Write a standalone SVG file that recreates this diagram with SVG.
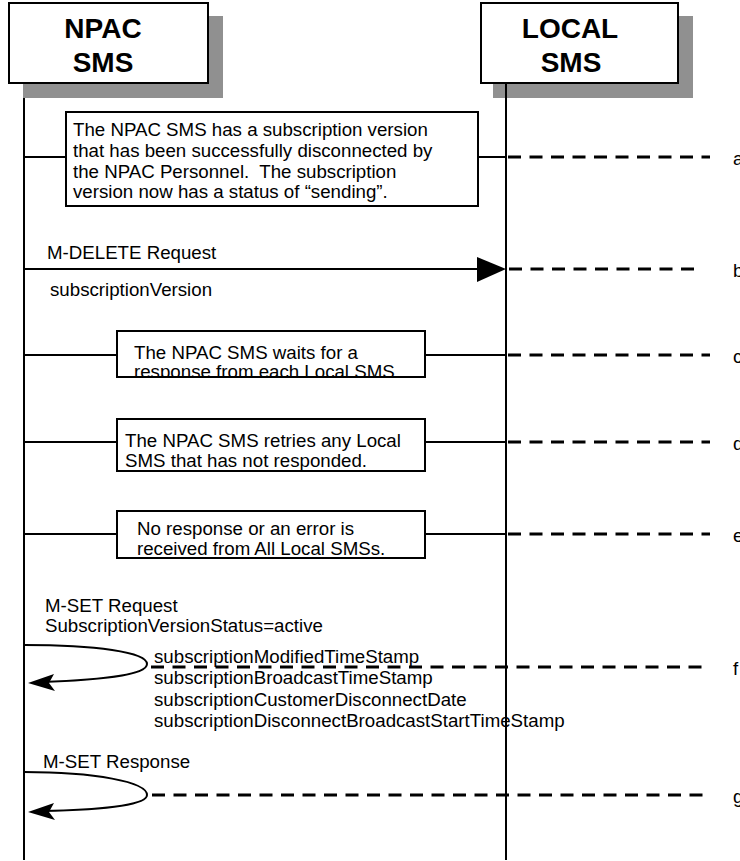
<svg xmlns="http://www.w3.org/2000/svg" width="740" height="861" viewBox="0 0 740 861">
  <style>
    .hdr { font-family: "Liberation Sans", Arial, sans-serif; font-weight: bold; font-size: 28px; fill: #000; text-anchor: middle; }
    .txt { font-family: "Liberation Sans", Arial, sans-serif; font-size: 18.7px; fill: #000; white-space: pre; }
    .box { fill: #fff; stroke: #000; stroke-width: 2; }
    .shadow { fill: #909090; }
    .life { stroke: #000; stroke-width: 2; fill: none; }
    .solid { stroke: #000; stroke-width: 2; fill: none; }
    .dash { stroke: #000; stroke-width: 3; stroke-dasharray: 13 8.5; fill: none; }
    .head { fill: #000; }
  </style>
  <defs>
    <clipPath id="clipWait">
      <rect x="118" y="332" width="306" height="44"/>
    </clipPath>
  </defs>

  <rect width="740" height="861" fill="#fff"/>

  <!-- lifelines -->
  <g id="lifelines">
    <line class="life" x1="24" y1="83" x2="24" y2="860"/>
  </g>

  <!-- participants -->
  <g id="npac">
    <rect class="shadow" x="23" y="16" width="200" height="82"/>
    <rect class="box" x="9" y="3" width="199" height="80"/>
    <text class="hdr" x="103" y="38">NPAC</text>
    <text class="hdr" x="103" y="72">SMS</text>
  </g>
  <g id="local">
    <rect class="shadow" x="493" y="16" width="200" height="82"/>
    <rect class="box" x="481" y="3" width="197" height="80"/>
    <text class="hdr" x="570" y="38">LOCAL</text>
    <text class="hdr" x="571" y="72">SMS</text>
    <line class="life" x1="506" y1="83" x2="506" y2="860"/>
  </g>

  <!-- connectors -->
  <g id="connectors">
    <!-- a -->
    <line class="solid" x1="24" y1="157" x2="66" y2="157"/>
    <line class="solid" x1="478" y1="157" x2="506" y2="157"/>
    <line class="dash" x1="508" y1="157" x2="710" y2="157"/>
    <!-- b -->
    <line class="solid" x1="24" y1="269" x2="480" y2="269"/>
    <polygon class="head" points="477,257 506,269 477,282"/>
    <line class="dash" x1="509" y1="269" x2="697" y2="269"/>
    <!-- c -->
    <line class="solid" x1="24" y1="355" x2="117" y2="355"/>
    <line class="solid" x1="425" y1="355" x2="506" y2="355"/>
    <line class="dash" x1="508" y1="355" x2="710" y2="355"/>
    <!-- d -->
    <line class="solid" x1="24" y1="442" x2="117" y2="442"/>
    <line class="solid" x1="425" y1="442" x2="506" y2="442"/>
    <line class="dash" x1="508" y1="442" x2="710" y2="442"/>
    <!-- e -->
    <line class="solid" x1="24" y1="534" x2="117" y2="534"/>
    <line class="solid" x1="425" y1="534" x2="506" y2="534"/>
    <line class="dash" x1="508" y1="534" x2="710" y2="534"/>
    <!-- f: self message -->
    <path class="solid" d="M24,645 C95,645 147,652 147,664 C147,676 95,680 42,682"/>
    <polygon class="head" points="28,683 54,674 49,683 55,691"/>
    <line class="dash" x1="151" y1="667" x2="710" y2="667"/>
    <!-- g: self message -->
    <path class="solid" d="M24,772 C95,772 147,782 147,795 C147,806 95,810 42,811"/>
    <polygon class="head" points="28,812 54,803 49,812 55,820"/>
    <line class="dash" x1="152" y1="795" x2="710" y2="795"/>
  </g>

  <!-- step notes -->
  <g id="note-a">
    <rect class="box" x="66" y="112" width="412" height="94"/>
    <text class="txt" x="73" y="136">The NPAC SMS has a subscription version</text>
    <text class="txt" x="73" y="157">that has been successfully disconnected by</text>
    <text class="txt" x="73" y="177.5">the NPAC Personnel.  The subscription</text>
    <text class="txt" x="73" y="198">version now has a status of “sending”.</text>
  </g>
  <g id="msg-b">
    <text class="txt" x="47" y="259">M-DELETE Request</text>
    <text class="txt" x="50" y="296">subscriptionVersion</text>
  </g>
  <g id="note-c">
    <rect class="box" x="117" y="331" width="308" height="46"/>
    <g clip-path="url(#clipWait)">
      <text class="txt" x="134" y="359">The NPAC SMS waits for a</text>
      <text class="txt" x="134" y="378">response from each Local SMS.</text>
    </g>
  </g>
  <g id="note-d">
    <rect class="box" x="117" y="419" width="308" height="52"/>
    <text class="txt" x="125" y="447">The NPAC SMS retries any Local</text>
    <text class="txt" x="125" y="467">SMS that has not responded.</text>
  </g>
  <g id="note-e">
    <rect class="box" x="117" y="511" width="308" height="47"/>
    <text class="txt" x="137" y="535">No response or an error is</text>
    <text class="txt" x="137" y="555">received from All Local SMSs.</text>
  </g>
  <g id="msg-f">
    <text class="txt" x="45" y="611.5">M-SET Request</text>
    <text class="txt" x="45" y="631.5">SubscriptionVersionStatus=active</text>
    <text class="txt" x="154" y="663">subscriptionModifiedTimeStamp</text>
    <text class="txt" x="154" y="684">subscriptionBroadcastTimeStamp</text>
    <text class="txt" x="154" y="705.5">subscriptionCustomerDisconnectDate</text>
    <text class="txt" x="154" y="727">subscriptionDisconnectBroadcastStartTimeStamp</text>
  </g>
  <g id="msg-g">
    <text class="txt" x="43" y="768">M-SET Response</text>
  </g>

  <!-- step labels -->
  <g id="labels">
    <text class="txt" x="733" y="165">a</text>
    <text class="txt" x="733" y="277">b</text>
    <text class="txt" x="733" y="363">c</text>
    <text class="txt" x="733" y="450">d</text>
    <text class="txt" x="733" y="542">e</text>
    <text class="txt" x="733" y="675">f</text>
    <text class="txt" x="733" y="803">g</text>
  </g>
</svg>
